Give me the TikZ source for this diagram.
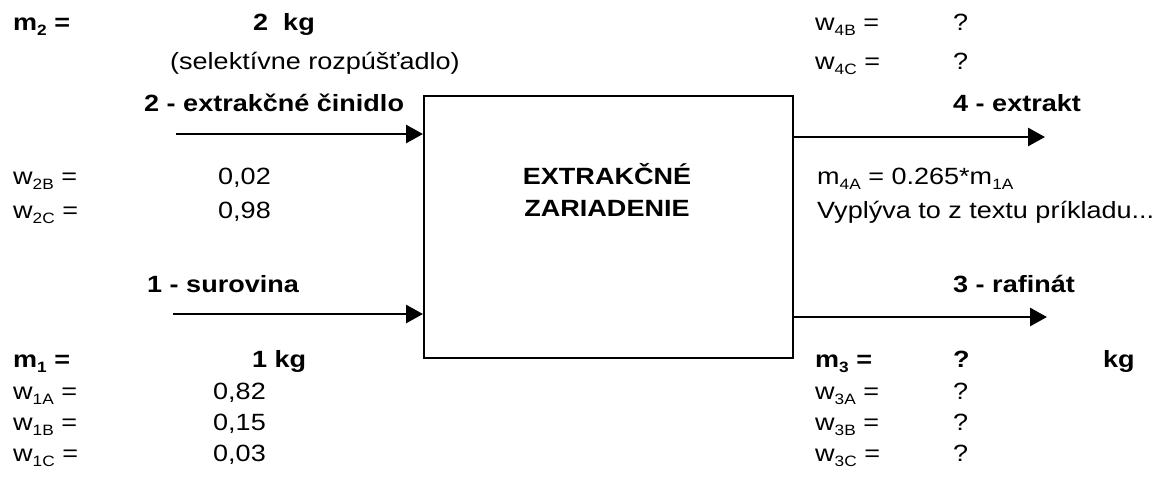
\documentclass[tikz,border=0pt]{standalone}
\usepackage{fontspec}
\setmainfont{Liberation Sans}[FakeStretch=1.15]
\usetikzlibrary{arrows.meta}

% lowered index in the current weight
\newcommand\idx[1]{\raisebox{-5pt}{\fontsize{15}{15}\selectfont #1}}

\begin{document}
\begin{tikzpicture}[x=1pt,y=-1pt,
  txt/.style={anchor=base west, inner sep=0pt, font=\fontsize{23.5}{27}\selectfont},
  btxt/.style={txt, font=\fontsize{23.5}{27}\selectfont\bfseries},
  flow/.style={line width=2.8pt, -{Triangle[length=17pt,width=18pt]}},
  unit/.style={draw, line width=1.8pt, inner sep=0pt, anchor=north west,
    minimum width=369pt, minimum height=262pt},
]
\useasboundingbox (0,0) rectangle (1155,485);

% extraction unit
\node[unit] (box) at (423,95) {};
\node[btxt, anchor=base] (ulab1) at (607,184) {EXTRAKČNÉ};
\node[btxt, anchor=base] (ulab2) at (607,216) {ZARIADENIE};

% stream 2 (solvent)
\node[btxt] (m2) at (13,30) {m\idx{2} =};
\node[btxt] (m2v) at (253,30) {2\ \ kg};
\node[txt] (sel) at (170,69) {(selektívne rozpúšťadlo)};
\node[btxt] (s2) at (144,111) {2 - extrakčné činidlo};
\node[txt] (w2B) at (13,184) {w\idx{2B} =};
\node[txt] (w2Bv) at (218,184) {0,02};
\node[txt] (w2C) at (13,218) {w\idx{2C} =};
\node[txt] (w2Cv) at (218,218) {0,98};

% stream 1 (feed)
\node[btxt] (s1) at (147,292) {1 - surovina};
\node[btxt] (m1) at (13,367) {m\idx{1} =};
\node[btxt] (m1v) at (252,367) {1 kg};
\node[txt] (w1A) at (13,399) {w\idx{1A} =};
\node[txt] (w1Av) at (213,399) {0,82};
\node[txt] (w1B) at (13,430) {w\idx{1B} =};
\node[txt] (w1Bv) at (213,430) {0,15};
\node[txt] (w1C) at (13,461) {w\idx{1C} =};
\node[txt] (w1Cv) at (213,461) {0,03};

% stream 4 (extract)
\node[txt] (w4B) at (815,30) {w\idx{4B} =};
\node[txt] (w4Bv) at (953,30) {?};
\node[txt] (w4C) at (815,69) {w\idx{4C} =};
\node[txt] (w4Cv) at (953,69) {?};
\node[btxt] (s4) at (953,111) {4 - extrakt};
\node[txt] (m4A) at (817,184) {m\idx{4A} = 0.265*m\idx{1A}};
\node[txt] (note) at (817,218) {Vyplýva to z textu príkladu...};

% stream 3 (raffinate)
\node[btxt] (s3) at (953,292) {3 - rafinát};
\node[btxt] (m3) at (815,367) {m\idx{3} =};
\node[btxt] (m3v) at (953,367) {?};
\node[btxt] (m3u) at (1103,367) {kg};
\node[txt] (w3A) at (815,399) {w\idx{3A} =};
\node[txt] (w3Av) at (953,399) {?};
\node[txt] (w3B) at (815,430) {w\idx{3B} =};
\node[txt] (w3Bv) at (953,430) {?};
\node[txt] (w3C) at (815,461) {w\idx{3C} =};
\node[txt] (w3Cv) at (953,461) {?};

% flows
\coordinate (in2) at (176,134);
\coordinate (in1) at (173,314);
\coordinate (out4) at (1045,137);
\coordinate (out3) at (1047,317);
\draw[flow] (in2) -- (in2 -| box.west);
\draw[flow] (in1) -- (in1 -| box.west);
\draw[flow] (box.east |- out4) -- (out4);
\draw[flow] (box.east |- out3) -- (out3);
\end{tikzpicture}
\end{document}
